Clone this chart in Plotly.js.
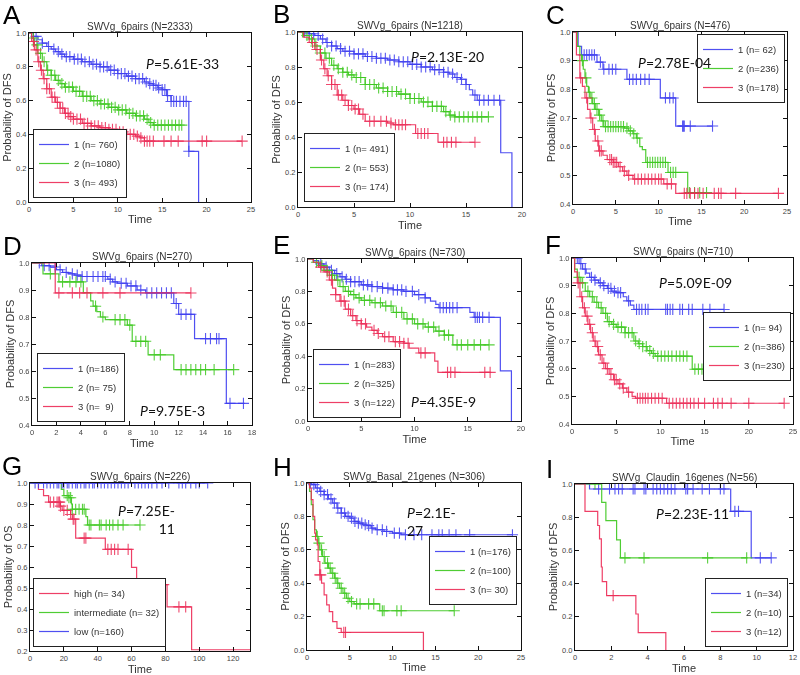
<!DOCTYPE html>
<html><head><meta charset="utf-8">
<script src="https://cdn.plot.ly/plotly-3.0.1.min.js"></script>
<style>html,body{margin:0;padding:0;background:#fff}#chart{width:800px;height:675px}</style>
</head><body><div id="chart"></div>
<script>
const NB = '\u00a0';
// ---------- Panel A ----------
const A_b_t = [0,0.5,1,1.5,2,2.5,3,3.5,4,5,6,7,8,9,10,11,12,13,13.5,14,14.5,15,15.5,16,18,19.1];
const A_b_s = [1,0.98,0.96,0.94,0.92,0.905,0.89,0.875,0.86,0.845,0.83,0.815,0.80,0.78,0.76,0.745,0.73,0.71,0.70,0.69,0.675,0.665,0.63,0.595,0.30,0];
const A_b_end = 19.1;
const A_b_c = [0.8,1.5,2.2,2.8,3.3,3.7,4.2,4.6,5.1,5.5,5.9,6.3,6.8,7.2,7.6,8.0,8.4,8.8,9.2,9.6,10.0,10.4,10.8,11.2,11.6,12.0,12.4,12.8,13.2,13.6,14.0,14.3,14.6,15.0,15.3,15.6,16.0,16.3,16.6,17.0,17.4,17.7,18.0];
const A_g_t = [0,0.3,0.6,1,1.5,2,2.5,3,3.5,4,5,6,7,8,9,10,11,12,13,13.5,14];
const A_g_s = [1,0.97,0.93,0.88,0.83,0.78,0.75,0.72,0.70,0.68,0.655,0.625,0.60,0.58,0.56,0.545,0.525,0.51,0.49,0.47,0.455];
const A_g_end = 17.2;
const A_g_c = [0.5,0.9,1.3,1.7,2.1,2.5,2.9,3.3,3.7,4.1,4.5,4.9,5.3,5.7,6.1,6.5,6.9,7.3,7.7,8.1,8.5,8.9,9.3,9.7,10.1,10.5,10.9,11.3,11.7,12.1,12.5,12.9,13.3,13.7,14.1,14.5,14.9,15.3,15.7,16.1,16.5,16.9,17.2];
const A_r_t = [0,0.3,0.6,1,1.3,1.6,2,2.5,3,3.5,4,4.5,5,6,7,8,9,10,11,12,12.5,13];
const A_r_s = [1,0.95,0.9,0.83,0.78,0.73,0.67,0.62,0.59,0.555,0.525,0.505,0.49,0.465,0.45,0.44,0.43,0.415,0.40,0.39,0.38,0.36];
const A_r_end = 24;
const A_r_c = [0.5,0.8,1.1,1.4,1.7,2.0,2.3,2.6,2.9,3.2,3.5,3.8,4.1,4.4,4.7,5.0,5.4,5.8,6.2,6.6,7.0,7.4,7.8,8.2,8.6,9.0,9.4,9.8,10.2,10.6,11.0,11.4,11.8,12.2,12.6,13.0,13.3,13.6,14.0,15.2,16.0,16.8,19.5,20.0,24.0];
const A_labels = ['1 (n=' + NB + '760)', '2 (n=1080)', '3 (n=' + NB + '493)'];

// ---------- Panel B ----------
const B_b_t = [0,0.5,1,1.5,2,2.5,3,3.5,4,5,6,7,8,9,10,11,12,13,13.5,14,14.5,15,15.3,15.6,16,18.1,19.1];
const B_b_s = [1,1,0.99,0.98,0.96,0.94,0.92,0.905,0.89,0.875,0.86,0.85,0.84,0.83,0.815,0.80,0.785,0.77,0.76,0.74,0.73,0.70,0.67,0.64,0.61,0.31,0];
const B_b_end = 19.1;
const B_b_c = [0.6,1.0,1.4,1.8,2.2,2.6,3.0,3.4,3.8,4.2,4.6,5.0,5.4,5.8,6.2,6.6,7.0,7.4,7.8,8.2,8.6,9.0,9.4,9.8,10.2,10.6,11.0,11.4,11.8,12.2,12.6,13.0,13.4,13.8,14.2,14.6,15.0,15.8,16.2,16.6,17.0,17.5,18.0];
const B_g_t = [0,0.5,1,1.5,2,2.5,3,3.5,4,4.5,5,6,7,8,9,10,11,12,13,13.5,14];
const B_g_s = [1,0.98,0.96,0.92,0.88,0.85,0.81,0.79,0.77,0.755,0.74,0.70,0.68,0.66,0.645,0.62,0.60,0.575,0.545,0.525,0.515];
const B_g_end = 17.0;
const B_g_c = [0.4,0.8,1.2,1.6,2.0,2.4,2.8,3.2,3.6,4.0,4.4,4.8,5.2,5.6,6.0,6.4,6.8,7.2,7.6,8.0,8.4,8.8,9.2,9.6,10.0,10.4,10.8,11.2,11.6,12.0,12.4,12.8,13.2,13.6,14.0,14.4,14.8,15.2,15.6,16.0,16.4,17.0];
const B_r_t = [0,0.5,1,1.5,2,2.3,2.6,3,3.5,4,4.5,5,5.5,6,8,8.5,10.5,12.5];
const B_r_s = [1,0.97,0.94,0.90,0.84,0.79,0.75,0.70,0.64,0.61,0.58,0.56,0.53,0.49,0.48,0.47,0.42,0.37];
const B_r_end = 15.8;
const B_r_c = [1.3,1.7,2.1,2.4,2.7,3.0,3.3,3.6,3.9,4.2,4.5,4.8,5.1,5.4,5.8,6.4,6.8,7.4,7.9,8.3,8.7,9.0,9.3,9.6,10.7,11.0,11.3,11.6,13.0,13.3,13.7,14.1,15.8];
const B_labels = ['1 (n=' + NB + '491)', '2 (n=' + NB + '553)', '3 (n=' + NB + '174)'];

// ---------- Panel C ----------
const C_b_t = [0,0.6,1.0,2.8,3.5,6.3,10.2,12.0];
const C_b_s = [1,0.95,0.92,0.895,0.87,0.835,0.77,0.672];
const C_b_end = 16.3;
const C_b_c = [1.3,1.6,1.9,2.2,2.5,3.2,3.6,4.2,4.6,5.0,6.6,7.0,7.4,7.9,8.4,8.9,10.8,11.3,11.7,12.8,12.9,13.0,13.7,16.3];
const C_g_t = [0,0.5,0.8,1.0,1.2,1.4,1.6,1.8,2.0,2.3,2.6,3.0,3.3,3.6,6.0,6.5,7.0,7.4,7.8,8.1,8.5,11.1,13.4];
const C_g_s = [1,0.95,0.92,0.90,0.87,0.84,0.81,0.79,0.77,0.75,0.73,0.71,0.69,0.67,0.665,0.655,0.645,0.63,0.60,0.59,0.545,0.51,0.44];
const C_g_end = 15.6;
const C_g_c = [1.1,1.5,1.9,2.2,2.5,2.8,3.1,3.5,3.8,4.1,4.4,4.7,5.0,5.3,5.6,5.9,6.3,6.7,7.1,7.5,8.7,9.0,9.3,9.6,9.9,10.2,10.5,10.8,11.4,11.7,12.0,13.6,14.2,14.8,15.6];
const C_r_t = [0,0.4,0.8,1.1,1.4,1.7,2.0,2.3,2.6,3.0,3.5,4.0,4.7,5.3,5.8,6.3,7.0,10.6,12.0];
const C_r_s = [1,0.92,0.84,0.81,0.77,0.73,0.70,0.66,0.62,0.585,0.57,0.555,0.545,0.53,0.515,0.50,0.487,0.47,0.437];
const C_r_end = 24;
const C_r_c = [0.9,1.6,2.1,2.5,2.9,3.1,3.3,4.3,4.5,4.7,4.9,5.1,5.5,6.0,6.5,7.2,7.6,8.0,8.4,8.8,9.2,9.6,10.0,10.3,11.0,11.5,13.0,13.3,13.7,14.2,14.6,15.2,16.5,17.0,17.3,19.0,24.0];
const C_labels = ['1 (n=' + NB + '62)', '2 (n=236)', '3 (n=178)'];

// ---------- Panel D ----------
const D_b_t = [0,0.8,1.5,2.0,2.5,3.0,3.5,4.0,6.2,6.6,7.0,7.8,8.6,9.3,11.6,12.0,13.3,15.9];
const D_b_s = [1,0.99,0.985,0.975,0.965,0.96,0.955,0.95,0.94,0.93,0.925,0.915,0.90,0.889,0.85,0.81,0.72,0.48];
const D_b_end = 17.4;
const D_b_c = [0.6,1.0,1.4,1.9,2.3,2.8,3.3,3.7,4.1,4.5,5.0,5.4,5.8,6.0,6.4,6.8,7.3,7.7,8.1,8.5,8.9,9.4,9.8,10.2,10.6,11.0,11.4,11.8,12.2,12.6,13.0,14.2,14.6,15.1,15.3,16.2,17.3];
const D_g_t = [0,0.9,2.2,4.2,4.8,5.0,5.3,5.6,6.0,7.8,8.2,9.5,11.6];
const D_g_s = [1,0.96,0.93,0.89,0.86,0.84,0.82,0.80,0.79,0.77,0.71,0.66,0.605];
const D_g_end = 16.5;
const D_g_c = [1.5,2.5,3.1,3.6,4.0,5.2,5.8,6.8,7.2,7.6,8.0,8.5,8.9,9.3,10.0,10.5,12.2,12.6,13.0,13.4,13.8,14.2,14.9,16.5];
const D_r_t = [0,1.9];
const D_r_s = [1,0.889];
const D_r_end = 13.0;
const D_r_c = [2.2,3.3,3.9,4.5,5.8,7.2,13.0];
const D_labels = ['1 (n=186)', '2 (n=' + NB + '75)', '3 (n=' + NB + NB + '9)'];

// ---------- Panel E ----------
const E_b_t = [0,0.5,1,1.5,2,2.5,3,3.5,4,5,6,7,8,9,10,11,11.5,12,12.3,15.2,15.6,18.06,19.1];
const E_b_s = [1,0.99,0.97,0.95,0.93,0.91,0.89,0.875,0.86,0.84,0.83,0.82,0.81,0.80,0.78,0.76,0.74,0.72,0.70,0.67,0.64,0.31,0];
const E_b_end = 19.1;
const E_b_c = [1.2,1.7,2.2,2.7,3.2,3.6,4.0,4.4,4.8,5.2,5.6,6.0,6.5,7.0,7.5,8.0,8.4,8.8,9.2,9.8,10.4,11.0,12.4,12.7,13.0,13.3,13.6,14.0,15.7,15.9,16.1,16.4,17.0];
const E_g_t = [0,0.5,1,1.5,2,2.5,3,3.5,4,4.5,5,6,7,8,9,10,11,12,12.8,13.6];
const E_g_s = [1,0.98,0.96,0.93,0.90,0.87,0.83,0.80,0.78,0.76,0.745,0.73,0.71,0.67,0.63,0.60,0.58,0.555,0.53,0.47];
const E_g_end = 17.0;
const E_g_c = [0.8,1.3,1.8,2.3,2.8,3.3,3.8,4.3,4.8,5.3,5.8,6.3,6.8,7.3,7.8,8.3,8.8,9.3,9.8,10.3,10.8,11.3,11.8,12.3,12.8,13.2,14.0,14.4,15.0,15.6,16.2,17.0];
const E_r_t = [0,0.5,1,1.5,2,2.3,2.6,3,3.5,4,4.5,5,5.5,6,6.5,7,8,9,9.5,10.4,11.9,12.2];
const E_r_s = [1,0.98,0.95,0.92,0.87,0.82,0.78,0.74,0.69,0.65,0.62,0.60,0.58,0.56,0.54,0.52,0.49,0.48,0.45,0.42,0.37,0.30];
const E_r_end = 17.2;
const E_r_c = [1.2,1.8,2.2,2.6,3.1,3.4,3.8,4.2,4.6,5.0,5.4,6.2,6.6,7.2,7.6,8.2,8.6,9.0,9.4,10.6,11.0,13.1,13.4,13.8,16.6,17.1];
const E_labels = ['1 (n=283)', '2 (n=325)', '3 (n=122)'];

// ---------- Panel F ----------
const F_b_t = [0,0.8,1.2,1.6,2,2.5,3,3.5,4,4.5,5,5.8,6.2,6.6,7.0];
const F_b_s = [1,0.98,0.96,0.945,0.93,0.92,0.91,0.90,0.89,0.88,0.875,0.86,0.845,0.83,0.814];
const F_b_end = 17.2;
const F_b_c = [0.6,1.0,1.5,2.2,2.6,3.2,3.6,4.1,4.4,4.8,5.2,5.5,6.4,7.3,7.6,7.9,8.3,8.6,10.6,10.8,11.1,11.4,12.2,12.5,13.2,13.6,14.8,15.6,17.2];
const F_g_t = [0,0.3,0.6,1,1.5,2,2.5,3,3.5,4,4.5,5,6,7,7.5,8,8.5,9,9.4,13.6];
const F_g_s = [1,0.96,0.93,0.91,0.88,0.86,0.84,0.82,0.80,0.77,0.76,0.75,0.73,0.70,0.69,0.68,0.665,0.655,0.645,0.598];
const F_g_end = 17.0;
const F_g_c = [0.8,1.2,1.8,2.3,2.8,3.3,3.8,4.2,4.7,5.2,5.6,6.0,6.4,6.8,7.2,7.6,8.0,8.4,8.8,9.2,9.7,10.1,10.5,10.9,11.3,11.8,12.2,12.6,13.0,13.9,14.3,14.7,15.1,15.5,15.9,16.3,17.0];
const F_r_t = [0,0.3,0.6,0.9,1.2,1.5,1.8,2.1,2.4,2.7,3,3.4,3.8,4.2,4.7,5.2,5.7,6.2,6.8,7.2,10.7];
const F_r_s = [1,0.95,0.91,0.86,0.82,0.79,0.76,0.73,0.70,0.68,0.65,0.62,0.60,0.58,0.56,0.545,0.53,0.515,0.50,0.493,0.475];
const F_r_end = 24;
const F_r_c = [0.7,1.1,1.4,1.7,2.0,2.3,2.6,2.9,3.2,3.6,4.0,4.4,4.8,5.0,5.4,5.8,6.4,7.4,7.7,8.0,8.3,8.6,9.0,9.4,9.8,10.2,11.0,11.4,11.8,12.2,12.6,13.0,13.4,13.8,14.3,15.0,16.0,16.5,17.0,18.0,20.0,24.0];
const F_labels = ['1 (n=' + NB + '94)', '2 (n=386)', '3 (n=230)'];

// ---------- Panel G ----------
const G_r_t = [0,5,8,11,18,19,24,25,27,44.5,60,63,81,95.5];
const G_r_s = [1,0.969,0.94,0.909,0.89,0.87,0.85,0.828,0.7375,0.684,0.598,0.516,0.41,0.206];
const G_r_end = 130;
const G_r_c = [12,14,16,17,17.5,18,20,22,24,25.5,26,32,33,46,48,50,52,58,79,88,92];
const G_g_t = [0,18.5,20,23,24.5,25,33,34];
const G_g_s = [1,0.97,0.94,0.93,0.90,0.875,0.84,0.80];
const G_g_end = 65;
const G_g_c = [22,23,24,25,27,29,31,32,35,36,41,42,45,47,49,52,55,65];
const G_b_t = [0];
const G_b_s = [1];
const G_b_end = 105;
const G_b_c = [3,5,8,10,12,14,16,17,19,20,22,23,25,27,28,30,32,33,35,37,38,40,42,44,46,48,50,52,54,56,58,62,64,66,68,70,72,75,78,82,88,90,92,95,98,100,105];
const G_labels = ['high (n=' + NB + '34)', 'intermediate (n=' + NB + '32)', 'low (n=160)'];

// ---------- Panel H ----------
const H_b_t = [0,0.5,1,1.5,2,2.5,3,3.5,4,4.5,5,5.5,6,6.5,7,7.5,8,9,10,11];
const H_b_s = [1,0.99,0.97,0.95,0.93,0.905,0.88,0.85,0.82,0.80,0.79,0.77,0.76,0.75,0.745,0.73,0.72,0.71,0.70,0.69];
const H_b_end = 24;
const H_b_c = [0.4,0.8,1.2,1.6,2.0,2.4,2.8,3.2,3.6,4.0,4.4,4.8,5.2,5.6,6.0,6.4,6.8,7.2,7.6,8.2,8.8,9.3,10.2,10.8,11.5,12.5,13.4,14.6,15.4,15.8,16.6,17.4,19.0,24.0];
const H_g_t = [0,0.3,0.5,0.7,0.9,1.1,1.3,1.5,1.8,2.1,2.5,2.8,3.2,3.5,3.8,4.2,4.6,5,5.5,8.5];
const H_g_s = [1,0.95,0.87,0.78,0.72,0.68,0.64,0.60,0.56,0.52,0.49,0.46,0.43,0.40,0.37,0.34,0.31,0.29,0.276,0.235];
const H_g_end = 17.2;
const H_g_c = [1.2,1.4,1.7,2.0,2.4,2.7,3.0,3.3,3.6,4.0,4.4,4.8,5.2,5.8,6.2,7.2,7.8,8.8,9.0,10.5,11.0,17.2];
const H_r_t = [0,0.3,0.5,0.7,0.9,1.0,1.2,1.3,1.5,1.7,2.0,2.3,2.6,3.0,3.5,4.0,13.6];
const H_r_s = [1,0.97,0.90,0.80,0.70,0.66,0.63,0.53,0.45,0.40,0.33,0.27,0.23,0.17,0.13,0.105,0];
const H_r_end = 13.6;
const H_r_c = [1.5,1.6,4.3,4.5];
const H_labels = ['1 (n=176)', '2 (n=100)', '3 (n=' + NB + '30)'];

// ---------- Panel I ----------
const I_b_t = [0,0.8,8.57,9.7];
const I_b_s = [1,0.97,0.835,0.555];
const I_b_end = 10.8;
const I_b_c = [1.3,1.9,2.2,2.4,2.6,3.2,3.3,3.8,3.9,4.3,4.5,4.7,4.9,5.1,5.3,5.5,6.1,6.2,6.5,7.0,7.4,8.0,8.2,8.8,9.0,10.2,10.8];
const I_g_t = [0,1.47,1.7,2.29,2.5];
const I_g_s = [1,0.889,0.779,0.664,0.555];
const I_g_end = 9.5;
const I_g_c = [1.1,2.75,3.8,7.3,9.45];
const I_r_t = [0,0.55,1.25,1.35,1.45,1.5,1.74,3.35,3.48,5.0];
const I_r_s = [1,0.835,0.75,0.67,0.50,0.412,0.328,0.217,0.105,0];
const I_r_end = 5.0;
const I_r_c = [2.1];
const I_labels = ['1 (n=34)', '2 (n=10)', '3 (n=12)'];

// ---------- Text ----------
const letters = ['A','B','C','D','E','F','G','H','I'];
const titles = ['SWVg_6pairs (N=2333)','SWVg_6pairs (N=1218)','SWVg_6pairs (N=476)','SWVg_6pairs (N=270)','SWVg_6pairs (N=730)','SWVg_6pairs (N=710)','SWVg_6pairs (N=226)','SWVg_Basal_21genes (N=306)','SWVg_Claudin_16genes (N=56)'];
const pvalues = ['5.61E-33','2.13E-20','2.78E-04','9.75E-3','4.35E-9','5.09E-09','7.25E-<br>11','2.1E-<br>27','2.23E-11'];
const yTitles = ['Probability of DFS','Probability of DFS','Probability of DFS','Probability of DFS','Probability of DFS','Probability of DFS','Probability of OS','Probability of DFS','Probability of DFS'];
const xTitle = 'Time';

// ---------- Assembly (styles / positions) ----------
const BLUE = '#3c3cf0', GREEN = '#3cc81e', RED = '#ec2a55';
const W = 800, H = 675;
const fx = p => p / W, fy = p => 1 - p / H;

const curves = {
  A: [[A_b_t,A_b_s,A_b_end,A_b_c,BLUE],[A_g_t,A_g_s,A_g_end,A_g_c,GREEN],[A_r_t,A_r_s,A_r_end,A_r_c,RED]],
  B: [[B_b_t,B_b_s,B_b_end,B_b_c,BLUE],[B_g_t,B_g_s,B_g_end,B_g_c,GREEN],[B_r_t,B_r_s,B_r_end,B_r_c,RED]],
  C: [[C_b_t,C_b_s,C_b_end,C_b_c,BLUE],[C_g_t,C_g_s,C_g_end,C_g_c,GREEN],[C_r_t,C_r_s,C_r_end,C_r_c,RED]],
  D: [[D_b_t,D_b_s,D_b_end,D_b_c,BLUE],[D_g_t,D_g_s,D_g_end,D_g_c,GREEN],[D_r_t,D_r_s,D_r_end,D_r_c,RED]],
  E: [[E_b_t,E_b_s,E_b_end,E_b_c,BLUE],[E_g_t,E_g_s,E_g_end,E_g_c,GREEN],[E_r_t,E_r_s,E_r_end,E_r_c,RED]],
  F: [[F_b_t,F_b_s,F_b_end,F_b_c,BLUE],[F_g_t,F_g_s,F_g_end,F_g_c,GREEN],[F_r_t,F_r_s,F_r_end,F_r_c,RED]],
  G: [[G_r_t,G_r_s,G_r_end,G_r_c,RED],[G_g_t,G_g_s,G_g_end,G_g_c,GREEN],[G_b_t,G_b_s,G_b_end,G_b_c,BLUE]],
  H: [[H_b_t,H_b_s,H_b_end,H_b_c,BLUE],[H_g_t,H_g_s,H_g_end,H_g_c,GREEN],[H_r_t,H_r_s,H_r_end,H_r_c,RED]],
  I: [[I_b_t,I_b_s,I_b_end,I_b_c,BLUE],[I_g_t,I_g_s,I_g_end,I_g_c,GREEN],[I_r_t,I_r_s,I_r_end,I_r_c,RED]]
};
const labels = {A:A_labels,B:B_labels,C:C_labels,D:D_labels,E:E_labels,F:F_labels,G:G_labels,H:H_labels,I:I_labels};

// plot boxes in pixels [left,right,top,bottom]
const boxes = [[29,251,33,202],[298,522,32,207],[573,787,32,204],[32,252,263,425],[308,521,259,421],[572,793,258,424],[30,250,483,651],[307,521,483,650],[575,793,484,650]];
const xr = [[0,25,5],[0,20,5],[0,25,5],[0,18,2],[0,20,5],[0,25,5],[0,130,20],[0,25,5],[0,12,2]];
const yr = [[0,1,0.2],[0,1,0.2],[0.4,1,0.1],[0.4,1,0.1],[0,1,0.2],[0.4,1,0.1],[0.2,1,0.1],[0,1,0.2],[0,1,0.2]];
// legend: [px x, px y, xanchor, yanchor]
const legPos = [[33,198,'left','bottom'],[304,202,'left','bottom'],[785,34,'right','top'],[37,422,'left','bottom'],[313,418,'left','bottom'],[791,312,'right','top'],[33,647,'left','bottom'],[517,536,'right','top'],[788,647,'right','bottom']];
// p-value annotations: [px x, px y, xanchor, align]
const pPos = [[182,63,'center','center'],[447,57,'center','center'],[674,62,'center','center'],[172,410,'center','center'],[443,402,'center','center'],[695,282,'center','center'],[177,519,'right','right'],[405,521,'left','left'],[692,513,'center','center']];
const letterPos = [[12,15],[281,14],[555,15],[12,246],[281,245],[553,245],[12,466],[282,467],[549,469]];

function stepAt(t, s, x) {
  let v = s[0];
  for (let i = 0; i < t.length; i++) { if (t[i] <= x) v = s[i]; else break; }
  return v;
}

const traces = [];
const layout = {
  width: W, height: H, margin: {l:0, r:0, t:0, b:0},
  paper_bgcolor: '#fff', plot_bgcolor: '#fff', showlegend: true,
  font: {family: 'Liberation Sans, Arial, sans-serif', color: '#333'},
  annotations: []
};

letters.forEach((L, k) => {
  const n = k + 1;
  const xa = n === 1 ? 'x' : 'x' + n, ya = n === 1 ? 'y' : 'y' + n;
  const lg = n === 1 ? 'legend' : 'legend' + n;
  const b = boxes[k];
  curves[L].forEach((c, j) => {
    const [t, s, end, cens, col] = c;
    const xs = t.slice(), ys = s.slice();
    if (end > t[t.length - 1]) { xs.push(end); ys.push(s[s.length - 1]); }
    traces.push({type:'scatter', mode:'lines', x: xs, y: ys, xaxis: xa, yaxis: ya, legend: lg,
      name: labels[L][j], line: {shape:'hv', color: col, width: 1.2}, opacity: 0.9, hoverinfo:'skip'});
    traces.push({type:'scatter', mode:'markers', x: cens, y: cens.map(v => stepAt(t, s, v)), xaxis: xa, yaxis: ya,
      showlegend: false, marker: {symbol:'cross-thin', size: 8, line: {color: col, width: 1.1}}, opacity: 0.85, hoverinfo:'skip'});
  });
  const common = {showline:true, linecolor:'#111', linewidth:1, mirror:'ticks', ticks:'inside', ticklen:4,
    tickcolor:'#111', tickwidth:1, showgrid:false, zeroline:false,
    tickfont:{size:7.5, color:'#444', family:'Liberation Sans, Arial, sans-serif'}};
  layout[n === 1 ? 'xaxis' : 'xaxis' + n] = Object.assign({}, common, {
    domain:[fx(b[0]), fx(b[1])], range:[xr[k][0], xr[k][1]], dtick: xr[k][2], tick0: 0, anchor: ya,
    title: {text: xTitle, font:{size: 11, color:'#333'}, standoff: 2}});
  layout[n === 1 ? 'yaxis' : 'yaxis' + n] = Object.assign({}, common, {
    domain:[fy(b[3]), fy(b[2])], range:[yr[k][0], yr[k][1]], dtick: yr[k][2], tick0: 0, tickformat: '.1f', anchor: xa,
    title: {text: yTitles[k], font:{size:11, color:'#333'}, standoff: 2}});
  const lp = legPos[k];
  layout[lg] = {x: fx(lp[0]), y: fy(lp[1]), xanchor: lp[2], yanchor: lp[3], xref:'paper', yref:'paper',
    bgcolor:'#fff', bordercolor:'#222', borderwidth:1, font:{size:9.5, color:'#333'}, tracegroupgap:0, itemwidth:30};
  layout.annotations.push({xref: xa + ' domain', yref: ya + ' domain', x: 0.5, y: 1, xanchor:'center', yanchor:'bottom',
    yshift: -1, text: titles[k], showarrow:false, font:{size:10, color:'#333'}});
  const pp = pPos[k];
  layout.annotations.push({xref:'paper', yref:'paper', x: fx(pp[0]), y: fy(pp[1]), xanchor: pp[2], yanchor:'middle', align: pp[3],
    text: '<i>P</i>=' + pvalues[k], showarrow:false, font:{size:14, color:'#111', family:'Lato, Carlito, sans-serif'}});
  const lt = letterPos[k];
  layout.annotations.push({xref:'paper', yref:'paper', x: fx(lt[0]), y: fy(lt[1]), xanchor:'center', yanchor:'middle',
    text: L, showarrow:false, font:{size:26, color:'#000', family:'Liberation Sans, Arial, sans-serif'}});
});

Plotly.newPlot('chart', traces, layout, {staticPlot: true});
</script></body></html>
